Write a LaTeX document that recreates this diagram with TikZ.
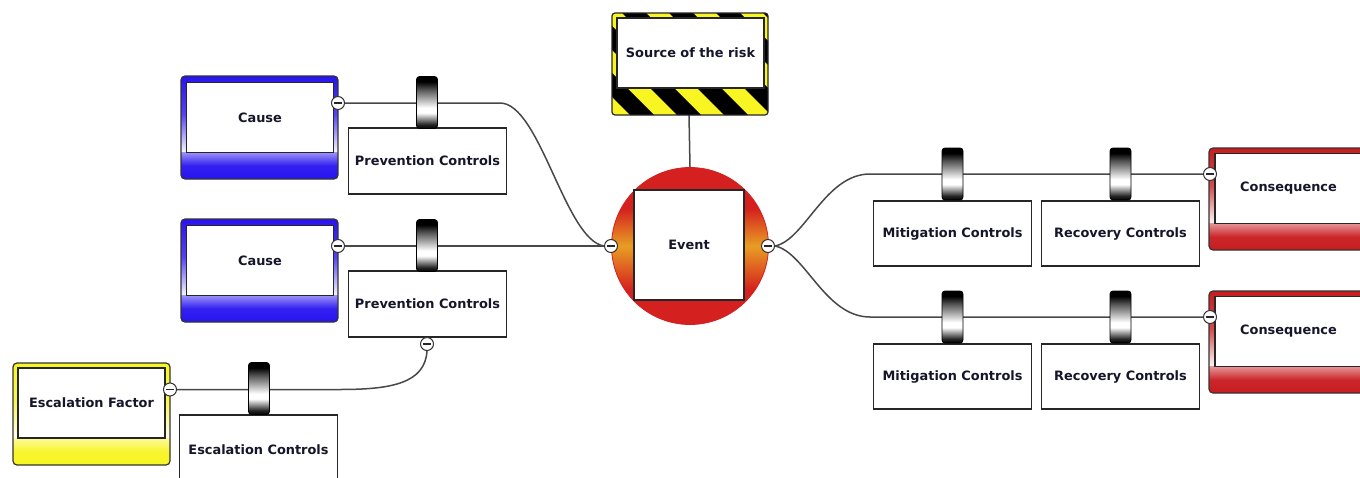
\documentclass[tikz,border=0pt]{standalone}
\usepackage{fontspec}
\setmainfont{DejaVu Sans}
\usetikzlibrary{backgrounds}
\definecolor{cblue}{RGB}{40,20,240}
\definecolor{cyel}{RGB}{248,245,35}
\definecolor{cred}{RGB}{200,28,32}
\definecolor{ered}{RGB}{212,32,30}
\definecolor{eorange}{RGB}{232,158,35}
\definecolor{txt}{RGB}{22,22,42}
\definecolor{lne}{RGB}{72,72,72}
\pgfdeclareverticalshading{knobsh}{100bp}{color(0bp)=(black); color(25bp)=(black); color(29bp)=(black!85); color(40bp)=(white); color(45bp)=(white); color(62bp)=(black!65); color(70bp)=(black); color(100bp)=(black)}
\pgfdeclareverticalshading{eventsh}{100bp}{color(0bp)=(ered); color(36bp)=(ered); color(50bp)=(eorange); color(62bp)=(ered); color(100bp)=(ered)}
\newcommand\riskframe[6]{%
  \begin{scope}
    \clip[rounded corners=4pt] (#1,#2) rectangle (#3,#4);
    \shade[top color=#6, bottom color=#6!4, middle color=#6!80] (#1,#2) rectangle (#3,#5);
    \shade[top color=#6!45, bottom color=#6, middle color=#6!95] (#1,#5) rectangle (#3,#4);
  \end{scope}
  \draw[rounded corners=4pt, draw=black!80, line width=1.2pt] (#1,#2) rectangle (#3,#4);
}
\tikzset{
  inner/.style={draw=black!85, line width=1.2pt, fill=white, rectangle, inner sep=0pt,
    font=\fontsize{12.9}{15}\selectfont\bfseries, text=txt},
  ctrl/.style={inner, minimum width=158pt, minimum height=66pt},
  framein/.style={inner, minimum width=147pt, minimum height=70pt},
  knob/.style={draw=black, line width=0.8pt, rounded corners=3pt, minimum width=21pt,
    minimum height=52pt, inner sep=0pt, shading=knobsh},
  minus/.style={circle, draw=black!80, line width=1pt, fill=white, minimum size=13pt, inner sep=0pt,
    path picture={\draw[line width=1.3pt, black!85] ([xshift=-3.6pt]path picture bounding box.center) -- ([xshift=3.6pt]path picture bounding box.center);}},
  conn/.style={draw=lne, line width=1.5pt},
}
\begin{document}
\begin{tikzpicture}[x=1pt,y=1pt]
\useasboundingbox (0,0) rectangle (1360,-477);
\clip (0,0) rectangle (1360,-477);

% ---- coloured frames ----
\riskframe{181}{-76}{338}{-179}{-152}{cblue}
\riskframe{181}{-219}{338}{-322}{-295}{cblue}
\riskframe{13}{-363}{170}{-465}{-438}{cyel}
\riskframe{1209}{-148}{1368}{-250}{-223}{cred}
\riskframe{1209}{-291}{1368}{-393}{-366}{cred}

% source of risk hazard frame
\begin{scope}
  \clip[rounded corners=3pt] (612,-13) rectangle (768,-115);
  \fill[cyel] (612,-13) rectangle (768,-115);
  \foreach \i in {0,...,6} {
    \fill[black] (481+\i*47,-13) -- ++(24,0) -- ++(102,-102) -- ++(-24,0) -- cycle;
  }
\end{scope}
\draw[rounded corners=3pt, draw=black!85, line width=1.2pt] (612,-13) rectangle (768,-115);
\coordinate (srcb) at (689,-115);

% ---- inner boxes ----
\node[framein] (cause1) at (260,-117.5) {Cause};
\node[framein] (cause2) at (260,-260.5) {Cause};
\node[framein, minimum height=70pt] (escf) at (91.5,-403) {Escalation Factor};
\node[framein] (cons1) at (1288.5,-188.5) {Consequence};
\node[framein] (cons2) at (1288.5,-331.5) {Consequence};
\node[framein] (src) at (690.5,-53) {Source of the risk};

% event
\node[circle, minimum size=157pt, inner sep=0pt, shading=eventsh, draw=ered, line width=0.8pt] (event) at (690,-246) {};
\node[inner, minimum width=110pt, minimum height=110pt] (evbox) at (689,-245) {Event};

% control boxes
\node[ctrl] (prev1) at (427.5,-161) {Prevention Controls};
\node[ctrl] (prev2) at (427.5,-304) {Prevention Controls};
\node[ctrl, minimum height=70pt] (escc) at (258.5,-450) {Escalation Controls};
\node[ctrl, minimum height=65pt] (mit1) at (952.5,-233.5) {Mitigation Controls};
\node[ctrl, minimum height=65pt] (rec1) at (1120.5,-233.5) {Recovery Controls};
\node[ctrl, minimum height=65pt] (mit2) at (952.5,-376.5) {Mitigation Controls};
\node[ctrl, minimum height=65pt] (rec2) at (1120.5,-376.5) {Recovery Controls};

% barriers
\node[knob] (k1) at (427,-102.5) {};
\node[knob] (k2) at (427,-245.5) {};
\node[knob] (k3) at (259,-388.5) {};
\node[knob] (k4) at (952.5,-174) {};
\node[knob] (k5) at (1120.5,-174) {};
\node[knob] (k6) at (952.5,-317) {};
\node[knob] (k7) at (1120.5,-317) {};

% minus connectors
\node[minus] (m1) at (338,-103) {};
\node[minus] (m2) at (338,-246) {};
\node[minus] (m3) at (427,-344) {};
\node[minus] (m4) at (170,-389.5) {};
\node[minus] (em1) at (611,-246) {};
\node[minus] (em2) at (768,-246) {};
\node[minus] (q1) at (1210,-174) {};
\node[minus] (q2) at (1210,-317) {};

% ---- connectors ----
\begin{scope}[on background layer]
  \fill[white] (0,0) rectangle (1360,-477);
  \draw[conn] (m1.east) -- (500,-103) .. controls (540,-103) and (565,-240) .. (em1.west);
  \draw[conn] (m2.east) -- (em1.west);
  \draw[conn] (m3.south) .. controls (425,-383) and (392,-389.5) .. (340,-389.5) -- (m4.east);
  \draw[conn] (srcb) -- (event.north);
  \draw[conn] (em2.east) .. controls (805,-240) and (825,-174) .. (870,-174) -- (q1.west);
  \draw[conn] (em2.east) .. controls (805,-252) and (825,-317) .. (870,-317) -- (q2.west);
\end{scope}
\end{tikzpicture}
\end{document}
